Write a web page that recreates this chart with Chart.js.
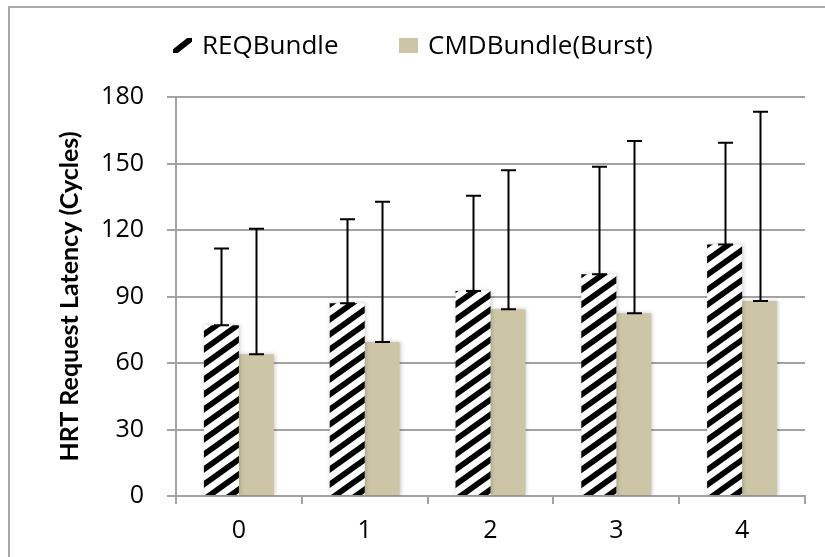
<!DOCTYPE html>
<html>
<head>
<meta charset="utf-8">
<title>HRT Request Latency</title>
<script src="https://cdn.jsdelivr.net/npm/chart.js@4/dist/chart.umd.min.js"></script>
<style>
  html, body { margin: 0; padding: 0; background: #fff; }
  #wrap { width: 825px; height: 557px; }
</style>
</head>
<body>
<div id="wrap"><canvas id="chart" width="825" height="557"></canvas></div>
<script>
// Categories along the x axis
const categories = ['0', '1', '2', '3', '4'];

// Mean latency (cycles) per series
const reqBundle = [77, 87, 92.5, 100, 113.5];
const cmdBundleBurst = [64, 69.5, 84.2, 82.4, 88];

// Upward error (cycles) per series
const reqBundleErr = [34.7, 37.8, 43, 48.5, 45.9];
const cmdBundleBurstErr = [56.6, 63.3, 62.7, 77.7, 85.4];

// Y axis tick values
const yTicks = [0, 30, 60, 90, 120, 150, 180];

const seriesLabels = ['REQBundle', 'CMDBundle(Burst)'];

const GRID = '#a3a3a3';
const TAN = '#cdc6a6';
const FONT = '"Open Sans", "Liberation Sans", sans-serif';

// Diagonal black stripes rising to the right
function makeHatch() {
  const W = 21, H = 15;
  const c = document.createElement('canvas');
  c.width = W; c.height = H;
  const g = c.getContext('2d');
  g.fillStyle = '#fff';
  g.fillRect(0, 0, W, H);
  g.strokeStyle = '#000';
  g.lineWidth = 5.8;
  for (const off of [-H, 0, H]) {
    g.beginPath();
    g.moveTo(-2 * (W / H), H + off + 2);
    g.lineTo(W + 2 * (W / H), off - 2);
    g.stroke();
  }
  return g.createPattern(c, 'repeat');
}
const hatch = makeHatch();

const errorSets = [reqBundleErr, cmdBundleBurstErr];

// Error bars: plus direction only, with caps
const errorBars = {
  id: 'errorBars',
  afterDatasetsDraw(chart) {
    const ctx = chart.ctx;
    const y = chart.scales.y;
    ctx.save();
    ctx.strokeStyle = '#000';
    ctx.lineWidth = 2;
    chart.data.datasets.forEach((ds, i) => {
      const meta = chart.getDatasetMeta(i);
      meta.data.forEach((bar, j) => {
        const top = y.getPixelForValue(ds.data[j] + errorSets[i][j]);
        const base = y.getPixelForValue(ds.data[j]);
        const x = Math.round(bar.x) + 0.5;
        ctx.beginPath();
        ctx.moveTo(x, base);
        ctx.lineTo(x, top);
        ctx.moveTo(x - 7.5, top);
        ctx.lineTo(x + 7.5, top);
        ctx.moveTo(x - 7.5, base);
        ctx.lineTo(x + 7.5, base);
        ctx.stroke();
      });
    });
    ctx.restore();
  }
};

// Soft shadow behind the bars
const barShadow = {
  id: 'barShadow',
  beforeDatasetsDraw(chart) {
    const ctx = chart.ctx;
    ctx.save();
    ctx.shadowColor = 'rgba(0,0,0,0.22)';
    ctx.shadowBlur = 4;
    ctx.shadowOffsetX = 1;
  },
  afterDatasetsDraw(chart) {
    chart.ctx.restore();
  }
};

// Outer frame and legend row
const frameAndLegend = {
  id: 'frameAndLegend',
  beforeDraw(chart) {
    const ctx = chart.ctx;
    ctx.save();
    ctx.fillStyle = '#fff';
    ctx.fillRect(0, 0, chart.width, chart.height);
    ctx.strokeStyle = '#a8a8a8';
    ctx.lineWidth = 2;
    ctx.strokeRect(9, 7, chart.width + 20, chart.height + 20);
    ctx.restore();
  },
  afterDraw(chart) {
    const ctx = chart.ctx;
    const xs = [173, 399];
    ctx.save();
    ctx.font = '26px ' + FONT;
    ctx.textBaseline = 'middle';
    ctx.textAlign = 'left';
    chart.data.datasets.forEach((ds, i) => {
      const bx = xs[i], by = 38, bw = 19, bh = 15;
      if (i === 0) {
        ctx.save();
        ctx.beginPath();
        ctx.rect(bx, by, bw, bh);
        ctx.clip();
        ctx.fillStyle = '#fff';
        ctx.fillRect(bx, by, bw, bh);
        ctx.strokeStyle = '#000';
        ctx.lineWidth = 6;
        ctx.beginPath();
        ctx.moveTo(bx - 2, by + bh + 1.5);
        ctx.lineTo(bx + bw + 2, by - 1.5);
        ctx.stroke();
        ctx.restore();
      } else {
        ctx.fillStyle = ds.backgroundColor;
        ctx.fillRect(bx, by, bw, bh);
      }
      ctx.fillStyle = '#000';
      ctx.fillText(ds.label, bx + bw + 10, 47);
    });
    ctx.restore();
  }
};

new Chart(document.getElementById('chart'), {
  type: 'bar',
  data: {
    labels: categories,
    datasets: [
      {
        label: seriesLabels[0],
        data: reqBundle,
        backgroundColor: hatch,
        borderWidth: 0,
        categoryPercentage: 0.556,
        barPercentage: 1.0
      },
      {
        label: seriesLabels[1],
        data: cmdBundleBurst,
        backgroundColor: TAN,
        borderWidth: 0,
        categoryPercentage: 0.556,
        barPercentage: 1.0
      }
    ]
  },
  options: {
    responsive: false,
    animation: false,
    devicePixelRatio: 1,
    layout: { padding: { top: 97, right: 20, left: 0, bottom: 0 } },
    plugins: {
      legend: { display: false },
      tooltip: { enabled: false }
    },
    scales: {
      x: {
        offset: true,
        grid: {
          display: true,
          offset: true,
          drawOnChartArea: false,
          drawTicks: true,
          tickLength: 8,
          color: GRID,
          lineWidth: 2
        },
        border: { display: true, color: GRID, width: 2 },
        ticks: {
          color: '#000',
          font: { family: FONT, size: 25 },
          padding: 12
        },
        afterFit(scale) { scale.height = 61; }
      },
      y: {
        min: 0,
        max: 180,
        afterBuildTicks(scale) {
          scale.ticks = yTicks.map(v => ({ value: v }));
        },
        grid: {
          color: GRID,
          lineWidth: 2,
          drawTicks: true,
          tickLength: 9
        },
        border: { display: true, color: GRID, width: 2 },
        ticks: {
          color: '#000',
          font: { family: FONT, size: 25 },
          padding: 23
        },
        title: {
          display: true,
          text: 'HRT Request Latency (Cycles)',
          color: '#000',
          font: { family: 'Lato, "Open Sans", sans-serif', size: 25, weight: 'bold' },
          padding: { top: 55, bottom: 0 }
        },
        afterFit(scale) { scale.width = 176; }
      }
    }
  },
  plugins: [frameAndLegend, barShadow, errorBars]
});
</script>
</body>
</html>
